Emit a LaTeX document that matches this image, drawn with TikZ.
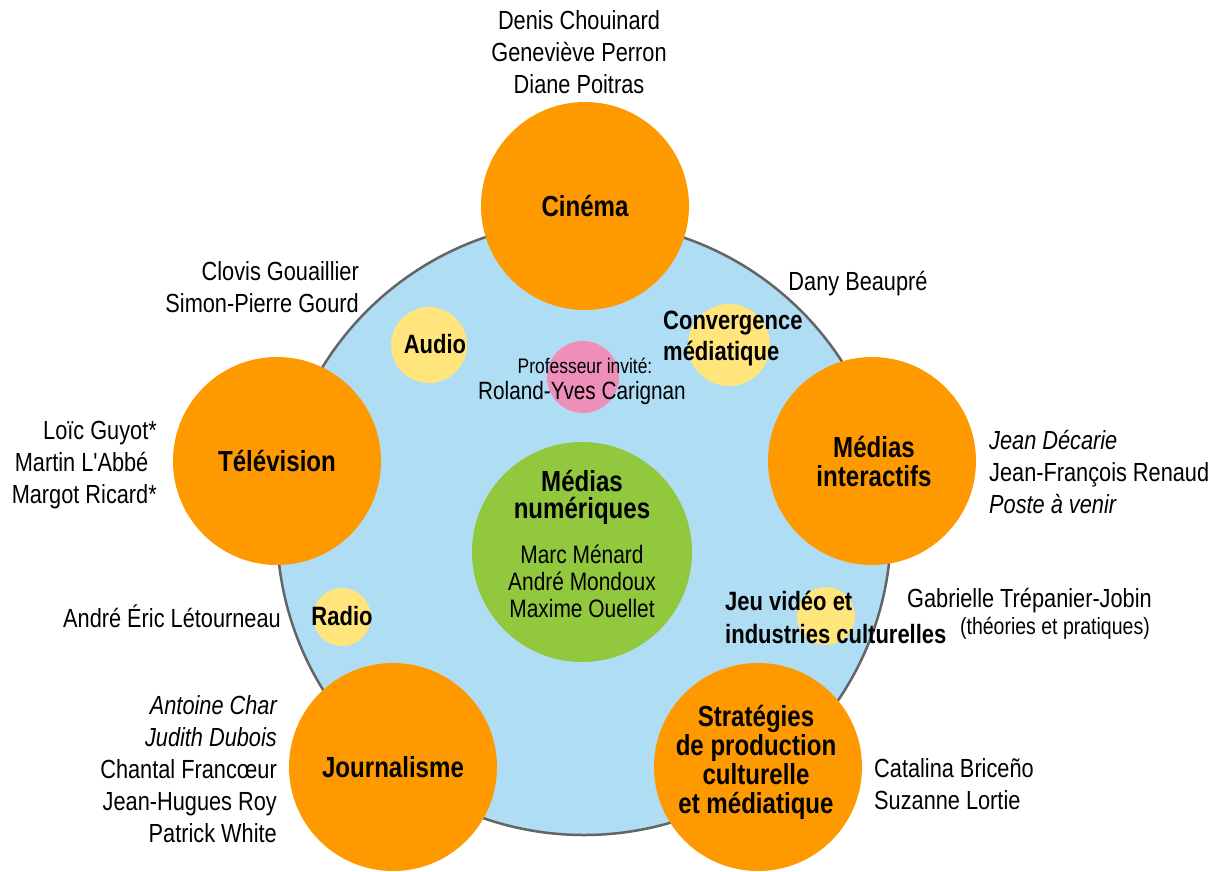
\documentclass[tikz,border=0pt]{standalone}
\usepackage{fontspec}
\setmainfont{Liberation Sans}[FakeStretch=0.83, Ligatures=TeXOff]
\definecolor{orng}{RGB}{255,153,0}
\definecolor{skyb}{RGB}{174,221,244}
\definecolor{grn}{RGB}{146,200,62}
\definecolor{ylw}{RGB}{255,229,124}
\definecolor{pnk}{RGB}{238,143,186}
\definecolor{rim}{RGB}{100,100,100}
\tikzset{
  disc/.style={circle, inner sep=0pt, outer sep=0pt},
  bigdisc/.style={disc, fill=orng, minimum size=208pt},
  smalldisc/.style={disc, fill=ylw},
  lbl/.style={inner sep=0pt, font=\fontsize{29}{29}\selectfont\bfseries, align=center},
  slbl/.style={inner sep=0pt, font=\fontsize{26.5}{31}\selectfont\bfseries},
  names/.style={inner sep=0pt, font=\fontsize{26.2}{32}\selectfont},
}
\begin{document}
\begin{tikzpicture}[x=1pt,y=-1pt]
\useasboundingbox (0,0) rectangle (1221,871);
% main circle
\node[disc, fill=skyb, draw=rim, line width=2.5pt, minimum size=614pt] (main) at (584,528) {};
% orange circles
\node[bigdisc] (cinema) at (585,206) {};
\node[bigdisc] (tele) at (277,461) {};
\node[bigdisc] (interactifs) at (872,461) {};
\node[bigdisc] (journ) at (393,767) {};
\node[bigdisc] (strat) at (758,767) {};
% small circles
\node[smalldisc, minimum size=76pt] (audio) at (429,345) {};
\node[smalldisc, minimum size=82pt] (conv) at (729,345) {};
\node[disc, fill=pnk, minimum size=72pt] (invite) at (583,377) {};
\node[smalldisc, minimum size=58pt] (radio) at (342,617) {};
\node[smalldisc, minimum size=58pt] (jeu) at (826,616) {};
% green circle
\node[disc, fill=grn, minimum size=220pt] (numeriques) at (582,552) {};
% labels in circles
\node[lbl] (tcinema) at (585,206) {Cinéma};
\node[lbl] (ttele) at (277,461) {Télévision};
\node[lbl] (tinter) at (874,461) {Médias\\interactifs};
\node[lbl] (tjourn) at (393,767) {Journalisme};
\node[lbl] (tstrat) at (756,762) {Stratégies\\de production\\culturelle\\et médiatique};
\node[slbl] (taudio) at (435,344) {Audio};
\node[slbl] (tradio) at (342,616) {Radio};
\node[slbl, align=left, anchor=west] (tconv) at (663,338) {Convergence\\médiatique};
\node[slbl, align=left, anchor=west, font=\fontsize{26.5}{33}\selectfont\bfseries] (tjeu) at (725,617) {Jeu vidéo et\\industries culturelles};
\node[lbl, font=\fontsize{29}{27}\selectfont\bfseries] (tnum) at (582,497) {Médias\\numériques};
\node[names, align=center, font=\fontsize{25.2}{27}\selectfont] (nnum) at (582,581) {Marc Ménard\\André Mondoux\\Maxime Ouellet};
\node[names, font=\fontsize{21}{24}\selectfont] (tprof) at (585,366) {Professeur invité:};
\node[names, font=\fontsize{25}{30}\selectfont] (nprof) at (582,393) {Roland-Yves Carignan};
% names outside
\node[names, align=center] (ncinema) at (579,52) {Denis Chouinard\\Geneviève Perron\\Diane Poitras};
\node[names, align=right, anchor=east] (naudio) at (359,287) {Clovis Gouaillier\\Simon-Pierre Gourd};
\node[names] (nconv) at (858,284) {Dany Beaupré};
\node[names, align=right, anchor=east] (ntele) at (157,465) {Loïc Guyot*\\Martin L'Abbé\phantom{*}\\Margot Ricard*};
\node[names, align=left, anchor=west] (ninter) at (989,472) {\itshape Jean Décarie\\Jean-François Renaud\\\itshape Poste à venir};
\node[names, anchor=east] (nradio) at (281,616) {André Éric Létourneau};
\node[names, anchor=west] (njeu) at (907,601) {Gabrielle Trépanier-Jobin};
\node[names, anchor=east, font=\fontsize{23.5}{26}\selectfont] (njeu2) at (1150,628) {(théories et pratiques)};
\node[names, align=right, anchor=east] (njourn) at (277,769) {\itshape Antoine Char\\\itshape Judith Dubois\\Chantal Francœur\\Jean-Hugues Roy\\Patrick White};
\node[names, align=left, anchor=west] (nstrat) at (874,784) {Catalina Briceño\\Suzanne Lortie};
\end{tikzpicture}
\end{document}
